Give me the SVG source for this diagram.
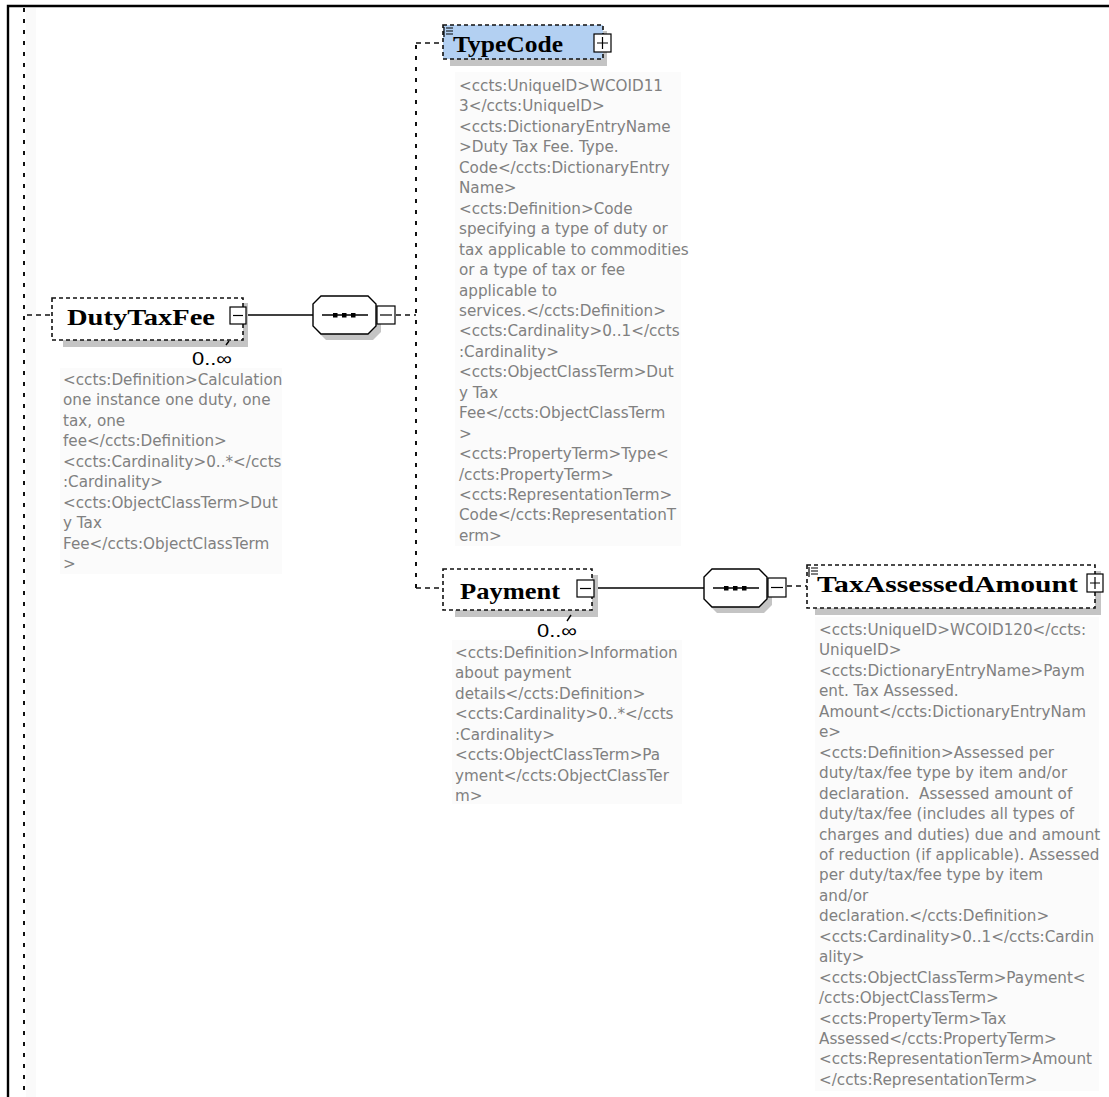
<svg xmlns="http://www.w3.org/2000/svg" width="1109" height="1097" viewBox="0 0 1109 1097">
<style>
.frame{stroke:#000;stroke-width:2.4;fill:none}
.vdash{stroke:#111;stroke-width:2;stroke-dasharray:4 7;fill:none}
.hdash{stroke:#111;stroke-width:1.6;stroke-dasharray:5 4;fill:none}
.solid{stroke:#000;stroke-width:1.4;fill:none}
.node{fill:#fff;stroke:#111;stroke-width:1.6;stroke-dasharray:4 3}
.nodeblue{fill:#b3d0f2;stroke:#111;stroke-width:1.6;stroke-dasharray:4 3}
.shadow{fill:#c4c4c4}
.oct{fill:#fff;stroke:#000;stroke-width:1.4}
.icon{fill:#fff;stroke:#000;stroke-width:1.2}
.sign{stroke:#000;stroke-width:1.2;fill:none}
.name{font-family:"Liberation Serif",serif;font-weight:bold;font-size:24px;fill:#000}
.card{font-family:"Liberation Sans",sans-serif;font-size:18px;fill:#000}
.doc{font-family:"DejaVu Sans",sans-serif;font-size:15.2px;fill:#808080;white-space:pre}
.docbg{fill:#fbfbfb}
</style>
<rect width="1109" height="1097" fill="#fff"/>
<path class="frame" d="M8,1097 L8,6 L1109,6"/>
<rect x="26" y="8" width="10" height="1089" fill="#fafafa"/>

<g id="connectors">
  <line class="vdash" x1="24" y1="8" x2="24" y2="1097"/>
  <line class="hdash" x1="27" y1="315" x2="52" y2="315"/>
  <line class="solid" x1="246" y1="315" x2="313" y2="315"/>
  <line class="hdash" x1="396" y1="315" x2="416" y2="315"/>
  <path class="vdash" d="M416,588 L416,43"/>
  <line class="hdash" x1="416" y1="43" x2="443" y2="43"/>
  <line class="hdash" x1="416" y1="588" x2="443" y2="588"/>
  <line class="solid" x1="594" y1="588" x2="704" y2="588"/>
  <line class="hdash" x1="787" y1="586" x2="807" y2="586"/>
</g>

<g id="seq1">
  <path class="shadow" d="M326,302 L373,302 L381,310 L381,332 L373,340 L326,340 L318,332 L318,310 Z"/>
  <path class="oct" d="M321,296 L368,296 L376,304 L376,326 L368,334 L321,334 L313,326 L313,304 Z"/>
  <line class="solid" x1="322" y1="315" x2="368" y2="315"/>
  <rect x="333" y="313" width="4.5" height="4.5" fill="#000"/>
  <rect x="342" y="313" width="4.5" height="4.5" fill="#000"/>
  <rect x="351" y="313" width="4.5" height="4.5" fill="#000"/>
  <rect class="icon" x="377" y="306" width="18" height="18"/>
  <line class="sign" x1="380" y1="315" x2="392" y2="315"/>
</g>

<g id="seq2">
  <path class="shadow" d="M717,575 L764,575 L772,583 L772,605 L764,613 L717,613 L709,605 L709,583 Z"/>
  <path class="oct" d="M712,569 L759,569 L767,577 L767,599 L759,607 L712,607 L704,599 L704,577 Z"/>
  <line class="solid" x1="713" y1="588" x2="759" y2="588"/>
  <rect x="724" y="586" width="4.5" height="4.5" fill="#000"/>
  <rect x="733" y="586" width="4.5" height="4.5" fill="#000"/>
  <rect x="742" y="586" width="4.5" height="4.5" fill="#000"/>
  <rect class="icon" x="768" y="578" width="18" height="19"/>
  <line class="sign" x1="771" y1="587.5" x2="783" y2="587.5"/>
</g>

<g id="DutyTaxFee">
  <rect class="shadow" x="63" y="303" width="185" height="44"/>
  <rect class="node" x="52" y="298" width="191" height="42"/>
  <text class="name" x="67" y="325" textLength="148" lengthAdjust="spacingAndGlyphs">DutyTaxFee</text>
  <rect class="icon" x="230" y="307" width="16" height="17"/>
  <line class="sign" x1="233" y1="315.5" x2="243" y2="315.5"/>
  <line class="solid" x1="226" y1="345" x2="229" y2="341"/>
  <text class="card" x="192" y="365" textLength="40" lengthAdjust="spacingAndGlyphs">0..∞</text>
  <rect class="docbg" x="60" y="368" width="222" height="206"/>
  <text class="doc" x="63" y="385"><tspan x="63">&lt;ccts:Definition&gt;Calculation</tspan><tspan x="63" dy="20.45">one instance one duty, one</tspan><tspan x="63" dy="20.45">tax, one</tspan><tspan x="63" dy="20.45">fee&lt;/ccts:Definition&gt;</tspan><tspan x="63" dy="20.45">&lt;ccts:Cardinality&gt;0..*&lt;/ccts</tspan><tspan x="63" dy="20.45">:Cardinality&gt;</tspan><tspan x="63" dy="20.45">&lt;ccts:ObjectClassTerm&gt;Dut</tspan><tspan x="63" dy="20.45">y Tax</tspan><tspan x="63" dy="20.45">Fee&lt;/ccts:ObjectClassTerm</tspan><tspan x="63" dy="20.45">&gt;</tspan></text>
</g>

<g id="TypeCode">
  <rect class="shadow" x="450" y="31" width="157" height="35"/>
  <rect class="nodeblue" x="443" y="25" width="160" height="34"/>
  <path class="sign" d="M446,28 L453,28 M446,31 L453,31 M446,34 L453,34 M444,27 L444,37"/>
  <text class="name" x="453" y="52" textLength="110" lengthAdjust="spacingAndGlyphs">TypeCode</text>
  <rect class="icon" x="594" y="34" width="17" height="18"/>
  <path class="sign" d="M597,43 L608,43 M602.5,37 L602.5,49"/>
  <rect class="docbg" x="455" y="72" width="226" height="474"/>
  <text class="doc" x="459" y="91"><tspan x="459">&lt;ccts:UniqueID&gt;WCOID11</tspan><tspan x="459" dy="20.45">3&lt;/ccts:UniqueID&gt;</tspan><tspan x="459" dy="20.45">&lt;ccts:DictionaryEntryName</tspan><tspan x="459" dy="20.45">&gt;Duty Tax Fee. Type.</tspan><tspan x="459" dy="20.45">Code&lt;/ccts:DictionaryEntry</tspan><tspan x="459" dy="20.45">Name&gt;</tspan><tspan x="459" dy="20.45">&lt;ccts:Definition&gt;Code</tspan><tspan x="459" dy="20.45">specifying a type of duty or</tspan><tspan x="459" dy="20.45">tax applicable to commodities</tspan><tspan x="459" dy="20.45">or a type of tax or fee</tspan><tspan x="459" dy="20.45">applicable to</tspan><tspan x="459" dy="20.45">services.&lt;/ccts:Definition&gt;</tspan><tspan x="459" dy="20.45">&lt;ccts:Cardinality&gt;0..1&lt;/ccts</tspan><tspan x="459" dy="20.45">:Cardinality&gt;</tspan><tspan x="459" dy="20.45">&lt;ccts:ObjectClassTerm&gt;Dut</tspan><tspan x="459" dy="20.45">y Tax</tspan><tspan x="459" dy="20.45">Fee&lt;/ccts:ObjectClassTerm</tspan><tspan x="459" dy="20.45">&gt;</tspan><tspan x="459" dy="20.45">&lt;ccts:PropertyTerm&gt;Type&lt;</tspan><tspan x="459" dy="20.45">/ccts:PropertyTerm&gt;</tspan><tspan x="459" dy="20.45">&lt;ccts:RepresentationTerm&gt;</tspan><tspan x="459" dy="20.45">Code&lt;/ccts:RepresentationT</tspan><tspan x="459" dy="20.45">erm&gt;</tspan></text>
</g>

<g id="Payment">
  <rect class="shadow" x="455" y="575" width="143" height="42"/>
  <rect class="node" x="443" y="569" width="149" height="41"/>
  <text class="name" x="460" y="599" textLength="100" lengthAdjust="spacingAndGlyphs">Payment</text>
  <rect class="icon" x="577" y="580" width="17" height="17"/>
  <line class="sign" x1="580" y1="588.5" x2="591" y2="588.5"/>
  <line class="solid" x1="567" y1="621" x2="571" y2="615"/>
  <text class="card" x="537" y="637" textLength="40" lengthAdjust="spacingAndGlyphs">0..∞</text>
  <rect class="docbg" x="452" y="640" width="230" height="164"/>
  <text class="doc" x="455" y="658"><tspan x="455">&lt;ccts:Definition&gt;Information</tspan><tspan x="455" dy="20.45">about payment</tspan><tspan x="455" dy="20.45">details&lt;/ccts:Definition&gt;</tspan><tspan x="455" dy="20.45">&lt;ccts:Cardinality&gt;0..*&lt;/ccts</tspan><tspan x="455" dy="20.45">:Cardinality&gt;</tspan><tspan x="455" dy="20.45">&lt;ccts:ObjectClassTerm&gt;Pa</tspan><tspan x="455" dy="20.45">yment&lt;/ccts:ObjectClassTer</tspan><tspan x="455" dy="20.45">m&gt;</tspan></text>
</g>

<g id="TaxAssessedAmount">
  <rect class="shadow" x="815" y="571" width="286" height="44"/>
  <rect class="node" x="807" y="565" width="288" height="43"/>
  <path class="sign" d="M811,568 L818,568 M811,571 L818,571 M811,574 L818,574 M809,567 L809,577"/>
  <text class="name" x="817" y="592" textLength="261" lengthAdjust="spacingAndGlyphs">TaxAssessedAmount</text>
  <rect class="icon" x="1087" y="574" width="16" height="18"/>
  <path class="sign" d="M1090,583 L1100,583 M1095,577 L1095,589"/>
  <rect class="docbg" x="815" y="617" width="284" height="474"/>
  <text class="doc" x="819" y="635"><tspan x="819">&lt;ccts:UniqueID&gt;WCOID120&lt;/ccts:</tspan><tspan x="819" dy="20.45">UniqueID&gt;</tspan><tspan x="819" dy="20.45">&lt;ccts:DictionaryEntryName&gt;Paym</tspan><tspan x="819" dy="20.45">ent. Tax Assessed.</tspan><tspan x="819" dy="20.45">Amount&lt;/ccts:DictionaryEntryNam</tspan><tspan x="819" dy="20.45">e&gt;</tspan><tspan x="819" dy="20.45">&lt;ccts:Definition&gt;Assessed per</tspan><tspan x="819" dy="20.45">duty/tax/fee type by item and/or</tspan><tspan x="819" dy="20.45">declaration.  Assessed amount of</tspan><tspan x="819" dy="20.45">duty/tax/fee (includes all types of</tspan><tspan x="819" dy="20.45">charges and duties) due and amount</tspan><tspan x="819" dy="20.45">of reduction (if applicable). Assessed</tspan><tspan x="819" dy="20.45">per duty/tax/fee type by item</tspan><tspan x="819" dy="20.45">and/or</tspan><tspan x="819" dy="20.45">declaration.&lt;/ccts:Definition&gt;</tspan><tspan x="819" dy="20.45">&lt;ccts:Cardinality&gt;0..1&lt;/ccts:Cardin</tspan><tspan x="819" dy="20.45">ality&gt;</tspan><tspan x="819" dy="20.45">&lt;ccts:ObjectClassTerm&gt;Payment&lt;</tspan><tspan x="819" dy="20.45">/ccts:ObjectClassTerm&gt;</tspan><tspan x="819" dy="20.45">&lt;ccts:PropertyTerm&gt;Tax</tspan><tspan x="819" dy="20.45">Assessed&lt;/ccts:PropertyTerm&gt;</tspan><tspan x="819" dy="20.45">&lt;ccts:RepresentationTerm&gt;Amount</tspan><tspan x="819" dy="20.45">&lt;/ccts:RepresentationTerm&gt;</tspan></text>
</g>
</svg>
